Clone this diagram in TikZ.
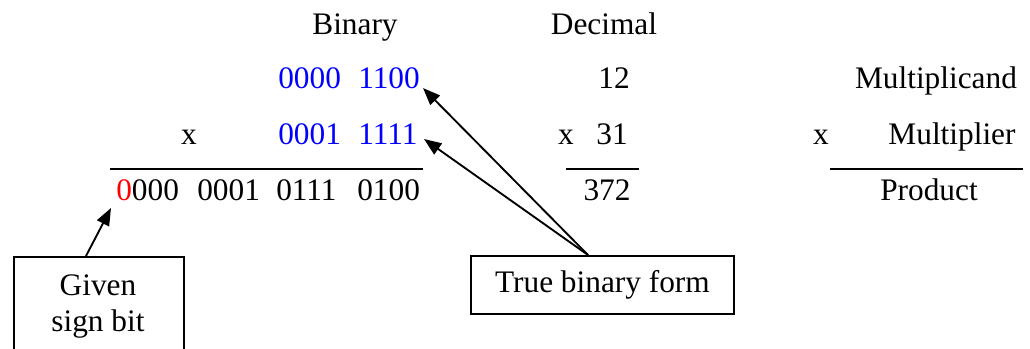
\documentclass[tikz,border=0pt]{standalone}
\usepackage{fontspec}
\setmainfont{Liberation Serif}
\usetikzlibrary{arrows.meta}
\definecolor{bitblue}{RGB}{0,0,255}
\definecolor{bitred}{RGB}{255,0,0}
\begin{document}
\begin{tikzpicture}[x=0.75pt,y=-0.75pt,
  txt/.style={inner sep=0pt, font=\fontsize{23.5}{26.5}\selectfont},
  lw/.style={txt, anchor=base west},
  cb/.style={txt, anchor=base},
  rule/.style={line width=1.4pt},
  boxed/.style={draw, line width=1.4pt, inner sep=0pt},
  arr/.style={line width=1.4pt, -{Triangle[length=13pt,width=10pt]}}]
\useasboundingbox (0,0) rectangle (1030,349);
\clip (0,0) rectangle (1030,349);
% headers
\node[cb] (hbin) at (355,35) {Binary};
\node[cb] (hdec) at (604,35) {Decimal};
% row 1
\node[lw, text=bitblue] (a1) at (278,89) {0000};
\node[lw, text=bitblue] (a2) at (358,89) {1100};
\node[cb] (d12) at (614,89) {12};
\node[cb] (mcand) at (936,89) {Multiplicand};
% row 2
\node[cb] (xb) at (189,145) {x};
\node[lw, text=bitblue] (b1) at (278,145) {0001};
\node[lw, text=bitblue] (b2) at (358,145) {1111};
\node[cb] (xd) at (566,145) {x};
\node[cb] (d31) at (612,145) {31};
\node[cb] (xw) at (821,145) {x};
\node[cb] (mplier) at (952,145) {Multiplier};
% rules
\coordinate (r1a) at (110,169); \coordinate (r1b) at (423,169);
\coordinate (r2a) at (566,169); \coordinate (r2b) at (639,169);
\coordinate (r3a) at (830,169); \coordinate (r3b) at (1023,169);
\draw[rule] (r1a) -- (r1b);
\draw[rule] (r2a) -- (r2b);
\draw[rule] (r3a) -- (r3b);
% row 3
\node[lw] (p1) at (116,200) {\textcolor{bitred}{0}000};
\node[lw] (p2) at (197,200) {0001};
\node[lw] (p3) at (276,200) {0111};
\node[lw] (p4) at (357,200) {0100};
\node[cb] (d372) at (607,200) {372};
\node[cb] (prod) at (929,200) {Product};
% boxes
\node[boxed, anchor=north west, minimum width=127.5pt, minimum height=90pt] (gsbox) at (13,256) {};
\node[txt, align=center, anchor=base] (gstext) at (98,331) {Given\\sign bit};
\node[boxed, anchor=north west, minimum width=197.25pt, minimum height=43.5pt, txt, draw] (tbf) at (470,255) {True binary form};
% arrows
\coordinate (gsa) at (86,256);
\coordinate (tip0) at (111,208);
\draw[arr] (gsa) -- (tip0);
\coordinate (tba) at (588,255);
\coordinate (tip1) at (423,88);
\coordinate (tip2) at (424,139);
\draw[arr] (tba) -- (tip1);
\draw[arr] (tba) -- (tip2);
\end{tikzpicture}
\end{document}
